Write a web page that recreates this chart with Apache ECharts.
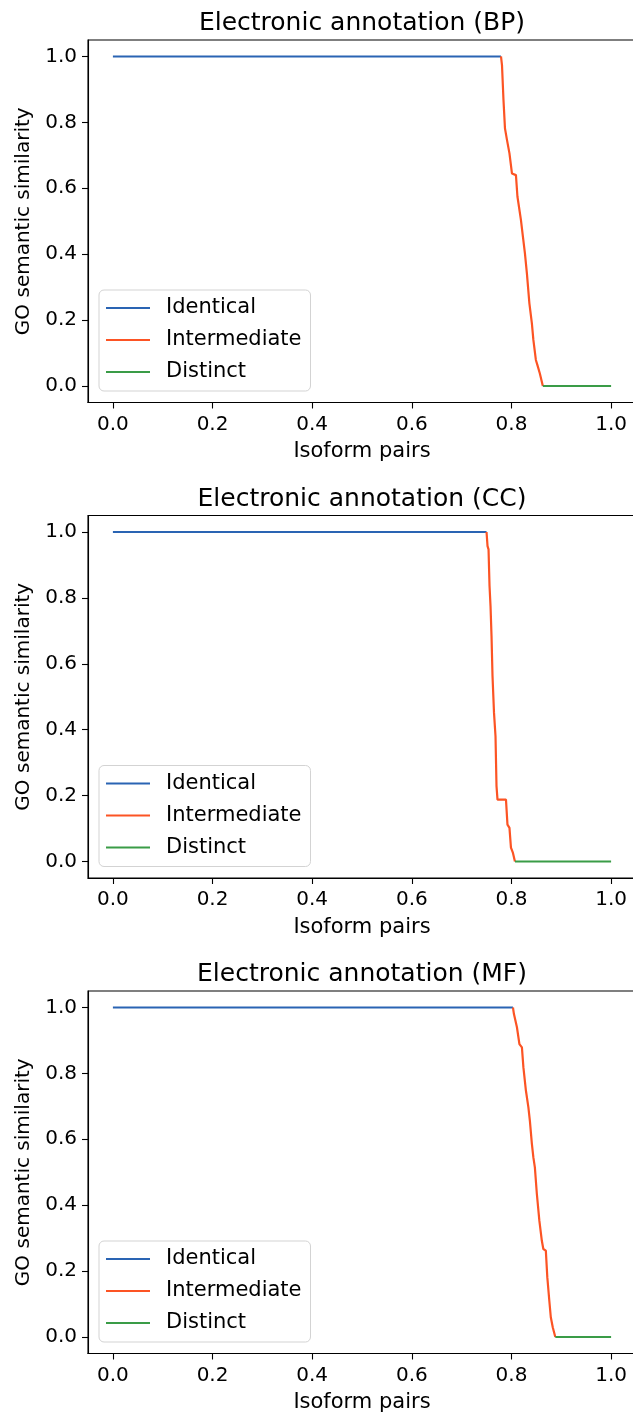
<!DOCTYPE html>
<html>
<head>
<meta charset="utf-8">
<script src="https://cdn.jsdelivr.net/npm/echarts@6/dist/echarts.min.js"></script>
<style>
html,body{margin:0;padding:0;background:#fff;}
#chart{width:633px;height:1416px;}
</style>
</head>
<body>
<div id="chart"></div>
<script>
// ---- data ----
const panelTitles = ['Electronic annotation (BP)', 'Electronic annotation (CC)', 'Electronic annotation (MF)'];
const seriesNames = ['Identical', 'Intermediate', 'Distinct'];
const tickValues = [0, 0.2, 0.4, 0.6, 0.8, 1.0];

// Intermediate curves (x = isoform pair fraction, y = similarity)
const bpX = [0.779, 0.781, 0.784, 0.787, 0.791, 0.796, 0.801, 0.809, 0.812, 0.819, 0.823, 0.827, 0.831, 0.836, 0.841, 0.844, 0.849, 0.852, 0.857, 0.863];
const bpY = [1.0, 0.974, 0.868, 0.782, 0.747, 0.706, 0.645, 0.640, 0.575, 0.504, 0.453, 0.403, 0.342, 0.251, 0.190, 0.140, 0.079, 0.064, 0.038, 0.0];

const ccX = [0.750, 0.752, 0.754, 0.756, 0.758, 0.760, 0.762, 0.765, 0.768, 0.770, 0.772, 0.789, 0.792, 0.796, 0.799, 0.803, 0.807];
const ccY = [1.0, 0.957, 0.947, 0.836, 0.775, 0.684, 0.562, 0.451, 0.380, 0.229, 0.188, 0.188, 0.112, 0.102, 0.042, 0.026, 0.0];

const mfX = [0.803, 0.805, 0.811, 0.816, 0.821, 0.824, 0.829, 0.834, 0.837, 0.841, 0.844, 0.847, 0.851, 0.856, 0.861, 0.864, 0.869, 0.872, 0.876, 0.879, 0.883, 0.888];
const mfY = [1.0, 0.980, 0.940, 0.889, 0.879, 0.818, 0.748, 0.697, 0.656, 0.586, 0.545, 0.515, 0.434, 0.353, 0.292, 0.267, 0.262, 0.181, 0.110, 0.060, 0.029, 0.0];

const panelX = [bpX, ccX, mfX];
const panelY = [bpY, ccY, mfY];
const xStart = 0.0, xEnd = 1.0;

// ---- styling ----
const FONT = 'DejaVu Sans';
const colors = ['#2a64b3', '#fc5424', '#3a9c47'];
const gridTops = [40, 515.5, 991];
const gridH = 362.5;
const gridLeft = 88;
const gridW = 548;

const grids = [], xAxes = [], yAxes = [], series = [], titles = [], legends = [];

for (let p = 0; p < 3; p++) {
  const top = gridTops[p];
  grids.push({left: gridLeft, top: top, width: gridW, height: gridH, show: true,
    borderColor: '#000', borderWidth: 1.1, backgroundColor: 'transparent', containLabel: false,
    outerBoundsMode: 'none'});
  xAxes.push({
    type: 'value', gridIndex: p, min: -0.05, max: 1.05,
    name: 'Isoform pairs', nameLocation: 'middle', nameGap: 39,
    nameTextStyle: {fontFamily: FONT, fontSize: 21, color: '#000'},
    axisLine: {show: true, onZero: false, lineStyle: {color: '#000', width: 1.1}},
    axisTick: {show: true, length: 6, lineStyle: {color: '#000', width: 1.1}, customValues: tickValues},
    axisLabel: {fontFamily: FONT, fontSize: 20, color: '#000', margin: 12,
      customValues: tickValues, formatter: v => v.toFixed(1)},
    splitLine: {show: false}
  });
  yAxes.push({
    type: 'value', gridIndex: p, min: -0.05, max: 1.05,
    name: 'GO semantic similarity', nameLocation: 'middle', nameGap: 52, nameRotate: 90,
    nameTextStyle: {fontFamily: FONT, fontSize: 20, color: '#000'},
    axisLine: {show: true, onZero: false, lineStyle: {color: '#000', width: 1.1}},
    axisTick: {show: true, length: 6, lineStyle: {color: '#000', width: 1.1}, customValues: tickValues},
    axisLabel: {fontFamily: FONT, fontSize: 20, color: '#000', margin: 11,
      customValues: tickValues, formatter: v => v.toFixed(1)},
    splitLine: {show: false}
  });
  const xs = panelX[p], ys = panelY[p];
  const inter = xs.map((x, i) => [x, ys[i]]);
  const ident = [[xStart, 1.0], [xs[0], ys[0]]];
  const dist = [[xs[xs.length - 1], ys[ys.length - 1]], [xEnd, 0.0]];
  [ident, inter, dist].forEach((d, k) => {
    series.push({
      name: seriesNames[k], type: 'line', xAxisIndex: p, yAxisIndex: p,
      data: d, showSymbol: false, symbol: 'none', animation: false,
      color: colors[k], lineStyle: {color: colors[k], width: 2.2}, z: 2 + k
    });
  });
  titles.push({
    text: panelTitles[p], left: gridLeft + gridW / 2, textAlign: 'center', top: top - 29, padding: 0,
    textStyle: {fontFamily: FONT, fontSize: 25, fontWeight: 'normal', color: '#000'}
  });
  legends.push({
    data: seriesNames, orient: 'vertical', left: 99, top: top + 250, selectedMode: false,
    icon: 'rect', itemWidth: 44, itemHeight: 2.2, itemGap: 10,
    padding: [7, 9, 8, 7],
    backgroundColor: 'rgba(255,255,255,0.8)', borderColor: '#d3d3d3', borderWidth: 1, borderRadius: 5,
    textStyle: {fontFamily: FONT, fontSize: 21, color: '#000', lineHeight: 22, padding: [0, 0, 0, 11]}
  });
}

const chart = echarts.init(document.getElementById('chart'), null, {renderer: 'canvas'});
chart.setOption({
  animation: false,
  backgroundColor: '#fff',
  title: titles,
  legend: legends,
  grid: grids,
  xAxis: xAxes,
  yAxis: yAxes,
  series: series
});
</script>
</body>
</html>
